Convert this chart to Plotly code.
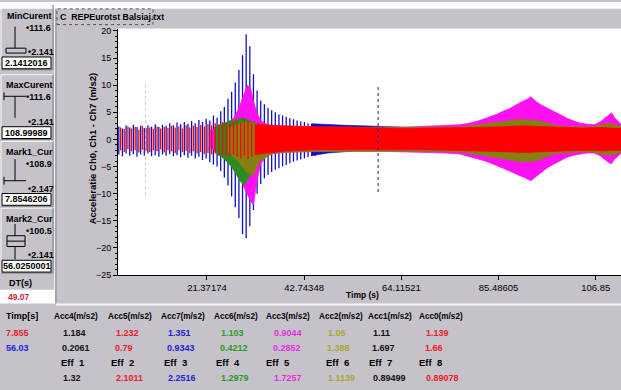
import plotly.graph_objects as go

W, H = 621, 390
def px(x): return x / W
def py(y): return 1 - y / H

# ---------------- data ----------------
x_tick_vals = [21.37174, 42.74348, 64.11521, 85.48605, 106.8587]
x_tick_text = ["21.37174", "42.74348", "64.11521", "85.48605", "106.85"]
y_tick_vals = [20, 15, 10, 5, 0, -5, -10, -15, -20, -25]

# Acc7 (blue) individual oscillation peaks, start of record
blue_spike_t = [2.0, 2.8, 3.6, 4.4, 5.2, 6.0, 6.8, 7.6, 8.4, 9.2, 10.0, 10.8, 11.6, 12.4,
                13.2, 14.0, 14.8, 15.6, 16.4, 17.2, 18.0, 18.8, 19.6, 20.4, 21.2, 22.0,
                22.8, 23.6, 24.4, 25.2, 26.0, 26.8, 27.6, 28.4, 29.2, 30.0, 30.8, 31.6,
                32.4, 33.2, 34.0, 34.8, 35.6, 36.4, 37.2, 38.0, 38.8, 39.6, 40.4, 41.2,
                42.0, 42.8, 43.6, 44.4, 45.2]
blue_spike_hi = [2.4, 2.0, 2.6, 2.2, 2.7, 2.3, 2.5, 2.1, 2.6, 2.4, 2.8, 2.3, 2.7, 2.5,
                 3.0, 2.6, 3.1, 2.8, 3.2, 2.9, 3.4, 3.0, 3.6, 3.2, 3.8, 3.5, 4.4, 4.0,
                 5.2, 6.0, 7.5, 8.8, 10.5, 12.8, 15.5, 19.4, 17.2, 12.0, 9.0, 7.2, 6.5,
                 5.8, 5.4, 5.0, 4.6, 4.4, 4.2, 3.9, 3.7, 3.5, 3.3, 3.2, 3.0, 2.9, 2.8]
blue_spike_lo = [-2.8, -3.1, -2.6, -3.0, -2.7, -3.2, -2.8, -3.0, -2.6, -3.1, -2.9, -3.2,
                 -2.8, -3.0, -2.7, -3.1, -2.9, -3.3, -2.9, -3.4, -3.0, -3.5, -3.2, -3.8,
                 -3.5, -4.2, -4.6, -5.0, -5.8, -7.0, -8.5, -10.5, -12.5, -14.5, -17.5,
                 -18.2, -16.0, -13.0, -10.0, -8.2, -7.2, -6.5, -6.0, -5.6, -5.3, -5.0,
                 -4.7, -4.4, -4.1, -3.9, -3.7, -3.5, -3.3, -3.1, -3.0]

# Acc7 (blue) envelope after the event
blue_band_t = [44.4, 48, 52, 56, 60, 63, 66, 70, 80, 90, 100, 112.4]
blue_band_hi = [2.9, 2.7, 2.6, 2.5, 2.4, 2.3, 2.1, 2.0, 2.0, 2.1, 2.0, 2.0]
blue_band_lo = [-3.0, -2.5, -2.2, -2.0, -1.9, -1.8, -1.8, -1.8, -1.9, -2.0, -1.9, -1.9]

# Acc0 / Acc5 (red) individual peaks, start of record and event
red_spike_t = [2.4, 3.2, 4.0, 4.8, 5.6, 6.4, 7.2, 8.0, 8.8, 9.6, 10.4, 11.2, 12.0, 12.8,
               13.6, 14.4, 15.2, 16.0, 16.8, 17.6, 18.4, 19.2, 20.0, 20.8, 21.6, 22.4,
               23.2, 24.0, 24.8, 25.6, 26.4, 27.2, 28.0, 28.8, 29.6, 30.4, 31.2, 32.0]
red_spike_hi = [2.2, 1.9, 2.4, 2.0, 2.3, 1.8, 2.5, 2.1, 2.2, 1.9, 2.4, 2.0, 2.3, 2.1,
                2.5, 2.2, 2.4, 2.0, 2.6, 2.2, 2.5, 2.3, 2.7, 2.4, 2.8, 2.6, 3.0, 2.8,
                3.2, 3.0, 3.0, 3.2, 3.5, 3.0, 3.8, 3.4, 3.0, 2.8]
red_spike_lo = [-2.0, -2.3, -1.8, -2.2, -2.0, -2.4, -1.9, -2.1, -2.3, -2.0, -2.2, -1.8,
                -2.4, -2.0, -2.2, -2.5, -2.0, -2.3, -2.1, -2.5, -2.2, -2.6, -2.3, -2.7,
                -2.5, -2.8, -2.6, -3.0, -2.8, -3.1, -3.0, -2.8, -3.2, -3.5, -3.0, -3.6,
                -3.2, -2.8]

# Acc0 / Acc5 (red) envelope
red_band_t = [32.0, 33, 35, 38, 42, 46, 50, 55, 60, 65, 70, 75, 80,
              85, 88, 91, 94, 97, 100, 104, 108, 112.4]
red_band_hi = [2.8, 2.8, 2.6, 2.5, 2.4, 2.3, 2.3, 2.2, 2.0, 2.0,
               2.1, 2.1, 2.2, 2.3, 2.4, 2.5, 2.4, 2.3, 2.2, 2.1, 2.2, 2.0]
red_band_lo = [-2.8, -2.7, -2.5, -2.2, -2.0, -1.9, -1.8, -1.8,
               -1.8, -1.9, -1.9, -2.0, -2.1, -2.2, -2.3, -2.4, -2.3, -2.2, -2.1, -2.0,
               -2.1, -2.0]

# Acc3 (magenta) envelope
mag_t = [22, 24, 26, 27.5, 28.5, 29.5, 30.3, 31.0, 31.6, 32.3, 33.2, 34.5, 36, 40, 50,
         60, 66, 70, 74, 77, 79, 81, 83, 85, 86.5, 88, 89.2, 90.2, 91.2, 92.0, 92.6,
         93.3, 94.0, 95.0, 96.2, 97.5, 99, 100.5, 102, 103.5, 105, 106.5, 107.8, 108.8,
         109.6, 110.3, 111.0, 112.4]
mag_hi = [1.5, 2.2, 3.0, 4.2, 6.0, 8.3, 10.0, 9.4, 7.0, 5.0, 3.5, 2.8, 2.5, 2.3, 2.2,
          2.2, 2.3, 2.4, 2.5, 2.7, 3.0, 3.4, 4.0, 4.6, 5.2, 5.7, 6.3, 6.8, 7.2, 7.5,
          7.9, 7.3, 6.8, 6.3, 5.7, 5.2, 4.6, 3.9, 3.4, 3.0, 2.8, 2.7, 3.2, 3.8, 4.4,
          4.9, 4.0, 2.8]
mag_lo = [-1.5, -2.4, -3.4, -4.8, -6.5, -8.8, -10.2, -11.5, -12.0, -8.0, -4.5, -3.0,
          -2.6, -2.3, -2.2, -2.2, -2.3, -2.4, -2.5, -2.7, -3.1, -3.6, -4.1, -4.8, -5.3,
          -5.8, -6.3, -6.7, -7.0, -7.4, -7.6, -7.2, -6.6, -6.0, -5.2, -4.6, -3.9, -3.3,
          -2.9, -2.7, -2.5, -2.5, -3.0, -3.6, -4.2, -4.5, -3.6, -2.6]

# Acc6 (green) envelope around the event
green_t = [23, 25, 26.5, 27.5, 28.5, 29.5, 30.5, 31.5, 32.5, 34]
green_hi = [2.2, 3.0, 3.5, 3.6, 3.8, 4.0, 3.6, 3.2, 2.8, 2.3]
green_lo = [-2.2, -3.5, -4.8, -6.0, -7.5, -8.5, -7.2, -5.5, -4.0, -2.5]

# Acc2 (olive) envelope
olive_t = [26, 28, 30, 31.5, 33, 36, 45, 60, 72, 77, 80, 83, 85.5, 88, 90, 92, 94,
           96, 98, 100, 103, 106, 108, 110, 112.4]
olive_hi = [2.2, 2.8, 3.2, 3.0, 2.6, 2.3, 2.2, 2.2, 2.2, 2.3, 2.6, 2.9, 3.2, 3.5, 3.7,
            3.6, 3.5, 3.0, 2.6, 2.4, 2.3, 2.3, 2.7, 3.0, 2.4]
olive_lo = [-2.4, -3.8, -6.0, -6.7, -4.0, -2.5, -2.2, -2.2, -2.2, -2.3, -2.7, -3.1,
            -3.4, -3.8, -4.1, -4.1, -3.9, -3.2, -2.6, -2.4, -2.3, -2.3, -2.7, -3.0, -2.4]

# cursor markers
mark_t = [7.855, 59.0]
mark_half = [10.3, 9.7]
mark_colors = ["#F2B8CC", "#1A1A80"]

# bottom table
col_headers = ["Acc4(m/s2)", "Acc5(m/s2)", "Acc7(m/s2)", "Acc6(m/s2)",
               "Acc3(m/s2)", "Acc2(m/s2)", "Acc1(m/s2)", "Acc0(m/s2)"]
col_colors = ["#111111", "#E8202A", "#2424D8", "#2A9A2A", "#E030E0", "#A8A830",
              "#111111", "#E8202A"]
row_times = ["7.855", "56.03"]
row_time_colors = ["#E8202A", "#2424D8"]
row1_vals = ["1.184", "1.232", "1.351", "1.103", "0.9044", "1.06", "1.11", "1.139"]
row2_vals = ["0.2061", "0.79", "0.9343", "0.4212", "0.2852", "1.388", "1.697", "1.66"]
eff_labels = ["Eff  1", "Eff  2", "Eff  3", "Eff  4", "Eff  5", "Eff  6", "Eff  7", "Eff  8"]
eff_vals = ["1.32", "2.1011", "2.2516", "1.2979", "1.7257", "1.1139", "0.89499", "0.89078"]

# left panel
panel_titles = ["MinCurent", "MaxCurent", "Mark1_Cur", "Mark2_Cur"]
panel_top_labels = ["\u2022111.6", "\u2022111.6", "\u2022108.9", "\u2022100.5"]
panel_bot_labels = ["\u20222.141", "\u20222.141", "\u20222.147", "\u20222.141"]
panel_values = ["2.1412016", "108.99989", "7.8546206", "56.0250001"]
dt_value = "49.07"
file_title = "C  REPEurotst Balsiaj.txt"

# ---------------- figure ----------------
GRAY = "#C6C2C9"
FONT = "Liberation Sans"

fig = go.Figure()

def spikes(t, hi, lo):
    xs, ys = [], []
    for a, b, c in zip(t, hi, lo):
        xs += [a, a, None]
        ys += [c, b, None]
    return xs, ys

def band(t, hi, lo):
    return list(t) + list(t)[::-1], list(hi) + list(lo)[::-1]

bx, by = spikes(blue_spike_t, blue_spike_hi, blue_spike_lo)
fig.add_trace(go.Scatter(x=bx, y=by, mode="lines", line=dict(color="#1010C0", width=1.3),
                         hoverinfo="skip", showlegend=False))
x, y = band(blue_band_t, blue_band_hi, blue_band_lo)
fig.add_trace(go.Scatter(x=x, y=y, fill="toself", fillcolor="#1010C0", mode="lines",
                         line=dict(color="#1010C0", width=0.6), hoverinfo="skip", showlegend=False))
x, y = band(mag_t, mag_hi, mag_lo)
fig.add_trace(go.Scatter(x=x, y=y, fill="toself", fillcolor="#FF10F0", mode="lines",
                         line=dict(color="#FF10F0", width=0.8), hoverinfo="skip", showlegend=False))
x, y = band(green_t, green_hi, green_lo)
fig.add_trace(go.Scatter(x=x, y=y, fill="toself", fillcolor="#2E8B22", mode="lines",
                         line=dict(color="#2E8B22", width=0.6), hoverinfo="skip", showlegend=False))
x, y = band(olive_t, olive_hi, olive_lo)
fig.add_trace(go.Scatter(x=x, y=y, fill="toself", fillcolor="#868010", mode="lines",
                         line=dict(color="#868010", width=0.6), hoverinfo="skip", showlegend=False))
rx, ry = spikes(red_spike_t, red_spike_hi, red_spike_lo)
fig.add_trace(go.Scatter(x=rx, y=ry, mode="lines", line=dict(color="#FF0000", width=1.3),
                         hoverinfo="skip", showlegend=False))
x, y = band(red_band_t, red_band_hi, red_band_lo)
fig.add_trace(go.Scatter(x=x, y=y, fill="toself", fillcolor="#FF0000", mode="lines",
                         line=dict(color="#FF0000", width=0.8), hoverinfo="skip", showlegend=False))
for t, h, c in zip(mark_t, mark_half, mark_colors):
    fig.add_trace(go.Scatter(x=[t, t], y=[-h, h], mode="lines",
                             line=dict(color=c, width=1, dash="dot"),
                             hoverinfo="skip", showlegend=False))

shapes = []
ann = []

def rect(x0, y0, x1, y1, fill=None, line="#000000", lw=1):
    shapes.append(dict(type="rect", xref="paper", yref="paper",
                       x0=px(x0), x1=px(x1), y0=py(y1), y1=py(y0),
                       fillcolor=fill if fill else "rgba(0,0,0,0)",
                       line=dict(color=line, width=lw)))

def line(x0, y0, x1, y1, color="#000000", lw=1, dash=None):
    d = dict(color=color, width=lw)
    if dash:
        d["dash"] = dash
    shapes.append(dict(type="line", xref="paper", yref="paper",
                       x0=px(x0), x1=px(x1), y0=py(y0), y1=py(y1), line=d))

def text(x, y, s, size=8, color="#000000", anchor="left", bold=True, angle=0):
    ann.append(dict(xref="paper", yref="paper", x=px(x), y=py(y), text=("<b>%s</b>" % s) if bold else s,
                    showarrow=False, xanchor=anchor, yanchor="middle", textangle=angle,
                    borderpad=0, font=dict(family=FONT, size=size, color=color)))

# top white strip
shapes.append(dict(type="rect", xref="paper", yref="paper", x0=0, x1=1, y0=py(7), y1=1,
                   fillcolor="#FDFDFD", line=dict(width=0), layer="below"))
# left panel divider
line(54.5, 7, 54.5, 307, "#F2F2F2", 1)
line(56, 7, 56, 307, "#8A8890", 1)
# title focus box
rect(57, 7, 153, 23, None, "#555555", 1)
shapes[-1]["line"]["dash"] = "dot"
text(59, 15, file_title, 8.8)

# left panels
pan_top = [3, 74, 142, 210]
for i, top in enumerate(pan_top):
    bot = top + 66
    line(1, top, 53, top, "#F6F6F6", 1)
    line(1, top, 1, bot, "#F6F6F6", 1)
    line(1, bot, 53, bot, "#7E7C84", 1)
    line(53, top, 53, bot, "#7E7C84", 1)
    text(29, top + 11, panel_titles[i], 9, anchor="center")
    text(25, top + 23, panel_top_labels[i], 9)
    text(27, top + 48, panel_bot_labels[i], 9)
    rect(2, top + 53, 51, top + 65, "#FFFFFF", "#000000", 1)
    text(26.5, top + 59, panel_values[i], 9, anchor="center")

# slider graphics
line(15, 25, 15, 47, "#000000", 1)
rect(6, 47, 26, 52, None, "#000000", 1)
line(4, 96, 26, 96, "#000000", 1)
line(4, 92, 4, 100, "#000000", 1)
line(15, 96, 15, 118, "#000000", 1)
line(15, 160, 15, 182, "#000000", 1)
line(4, 182, 26, 182, "#000000", 1)
line(4, 178, 4, 186, "#000000", 1)
line(15, 226, 15, 262, "#000000", 1)
rect(7, 238, 25, 249, GRAY, "#000000", 1)
line(7, 243.5, 25, 243.5, "#000000", 1)

# DT box
text(8, 286, "DT(s)", 9)
shapes.append(dict(type="rect", xref="paper", yref="paper", x0=0, x1=px(55), y0=py(307), y1=py(293),
                   fillcolor="#FFFFFF", line=dict(width=0)))
text(7, 300, dt_value, 8.5, color="#D0203A")

# separator before table
line(56, 308, 621, 308, "#F4F4F4", 2)

# table
col_x = [53, 107, 160, 213, 265, 318, 367, 418]
val_x = [62, 115, 167, 220, 273, 327, 372, 425]
eff_x = [60, 110, 163, 215, 265, 325, 368, 418]
text(5, 320, "Timp[s]", 9)
for i in range(8):
    text(col_x[i], 320, col_headers[i], 8.2)
    text(val_x[i], 337, row1_vals[i], 9, color=col_colors[i])
    text(val_x[i] - 1, 352, row2_vals[i], 9, color=col_colors[i])
    text(eff_x[i], 367, eff_labels[i], 9.5)
    text(val_x[i], 383, eff_vals[i], 9, color=col_colors[i])
text(5, 337, row_times[0], 9, color=row_time_colors[0])
text(5, 352, row_times[1], 9, color=row_time_colors[1])

# axis titles
text(92, 149, "Acceleratie Ch0, Ch1 - Ch7 (m/s2)", 9.5, anchor="center", angle=-90)
text(362, 298, "Timp (s)", 8.5, anchor="center")

fig.update_layout(
    width=W, height=H, margin=dict(l=0, r=0, t=0, b=0),
    paper_bgcolor=GRAY, plot_bgcolor="#FFFFFF",
    shapes=shapes, annotations=ann, showlegend=False,
    xaxis=dict(domain=[px(118), 1], range=[1.82, 112.4], tickvals=x_tick_vals,
               ticktext=x_tick_text, ticks="outside", ticklen=4, tickcolor="#000000",
               showgrid=False, zeroline=False, showline=True, linecolor="#000000",
               linewidth=1, tickfont=dict(family=FONT, size=9.5, color="#000000")),
    yaxis=dict(domain=[py(278), py(27)], range=[-25, 20.45], tickvals=y_tick_vals,
               ticks="outside", ticklen=4, tickcolor="#000000",
               minor=dict(dtick=1, ticks="outside", ticklen=2, tickcolor="#000000"),
               showgrid=False, zeroline=False, showline=True, linecolor="#000000",
               linewidth=1, tickfont=dict(family=FONT, size=9, color="#000000")),
)

fig.write_html("out.html", config={"displayModeBar": False},
               post_script="document.body.style.margin='0';document.body.style.padding='0';")
